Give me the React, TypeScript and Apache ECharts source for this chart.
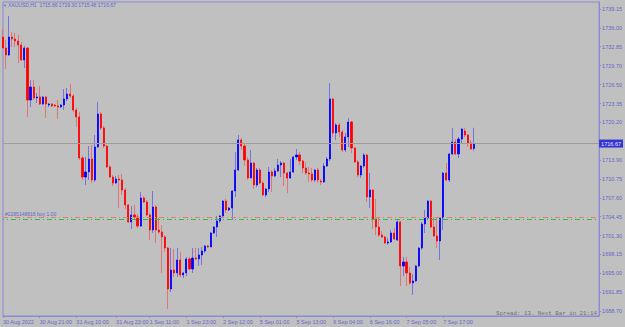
import React, { useEffect, useRef } from "react";
import * as echarts from "echarts";

// trading sessions (date, first hour, last hour) -> hourly categories
const sessions: [string, number, number][] = [
  ["30 Aug", 9, 23],
  ["31 Aug", 1, 23],
  ["1 Sep", 1, 23],
  ["2 Sep", 1, 23],
  ["5 Sep", 1, 21],
  ["6 Sep", 1, 23],
  ["7 Sep", 1, 23],
  ["8 Sep", 1, 4],
];

const open = [
  1734.47, 1732.63, 1731.47, 1734.47, 1734.14, 1733.8, 1733.13, 1730.63, 1732.63, 1723.95,
  1726.12, 1724.28, 1724.45, 1723.28, 1724.45, 1723.11, 1723.28, 1723.11, 1722.95, 1722.78,
  1723.11, 1724.12, 1724.95, 1724.61, 1722.28, 1721.11, 1714.26, 1711.08, 1711.92, 1714.09,
  1710.58, 1716.1, 1721.61, 1719.27, 1716.26, 1712.76, 1711.08, 1710.08, 1710.75, 1710.58,
  1708.91, 1706.41, 1703.57, 1704.74, 1704.4, 1702.9, 1707.58, 1706.91, 1704.74, 1702.23,
  1706.07, 1702.23, 1701.89, 1701.06, 1699.22, 1692.38, 1695.55, 1695.05, 1697.22, 1694.72,
  1695.05, 1697.39, 1695.72, 1697.55, 1697.39, 1698.06, 1698.72, 1699.56, 1699.39, 1701.73,
  1702.73, 1703.73, 1704.57, 1707.07, 1705.57, 1705.9, 1708.75, 1712.26, 1717.27, 1716.26,
  1713.93, 1710.92, 1713.42, 1709.75, 1712.26, 1710.08, 1708.08, 1709.08, 1711.92, 1711.25,
  1712.09, 1713.09, 1713.42, 1711.75, 1710.92, 1711.92, 1714.43, 1714.76, 1713.76, 1712.59,
  1711.75, 1711.59, 1710.58, 1712.26, 1710.42, 1710.25, 1712.92, 1714.09, 1724.12, 1718.44,
  1719.77, 1718.6, 1715.6, 1717.77, 1720.27, 1715.93, 1713.59, 1711.42, 1712.92, 1714.76,
  1707.74, 1708.91, 1704.07, 1702.73, 1701.39, 1701.06, 1700.06, 1700.23, 1701.73, 1700.56,
  1703.57, 1696.22, 1696.89, 1695.05, 1693.38, 1693.71, 1696.22, 1699.22, 1703.23, 1704.24,
  1707.07, 1702.73, 1701.23, 1700.39, 1704.24, 1711.75, 1710.58, 1714.93, 1716.93, 1714.93,
  1717.43, 1718.77, 1718.1, 1716.77, 1715.86,
];

const close = [
  1732.63, 1731.47, 1734.47, 1734.14, 1733.8, 1733.13, 1730.63, 1732.63, 1723.95, 1726.12,
  1724.28, 1724.45, 1723.28, 1724.45, 1723.28, 1723.28, 1722.95, 1722.95, 1722.78, 1723.11,
  1724.12, 1724.95, 1724.61, 1722.28, 1721.11, 1714.26, 1711.08, 1711.92, 1714.09, 1710.58,
  1716.1, 1721.61, 1719.27, 1716.26, 1712.76, 1711.08, 1710.08, 1710.75, 1710.58, 1708.91,
  1706.41, 1703.57, 1704.74, 1704.4, 1702.9, 1707.58, 1706.91, 1704.74, 1702.23, 1706.07,
  1702.23, 1701.89, 1701.06, 1699.22, 1692.38, 1695.55, 1695.05, 1697.22, 1694.72, 1695.05,
  1697.39, 1695.72, 1697.55, 1697.39, 1698.06, 1698.72, 1699.56, 1699.39, 1701.73, 1702.73,
  1703.73, 1704.57, 1707.07, 1705.57, 1705.9, 1708.75, 1712.26, 1717.27, 1716.26, 1713.93,
  1710.92, 1713.42, 1709.75, 1712.26, 1710.08, 1708.08, 1709.08, 1711.92, 1711.25, 1712.09,
  1713.09, 1713.42, 1711.75, 1710.92, 1711.92, 1714.43, 1714.76, 1713.76, 1712.59, 1711.75,
  1711.59, 1710.58, 1712.26, 1710.58, 1710.25, 1712.92, 1714.09, 1724.12, 1718.44, 1719.77,
  1718.6, 1715.6, 1717.77, 1720.27, 1715.93, 1713.59, 1711.42, 1712.92, 1714.76, 1707.74,
  1708.91, 1704.07, 1702.73, 1701.39, 1701.06, 1700.06, 1700.23, 1701.73, 1700.73, 1703.57,
  1696.22, 1696.89, 1695.05, 1693.38, 1693.71, 1696.22, 1699.22, 1703.23, 1704.24, 1707.07,
  1702.73, 1701.23, 1700.39, 1704.24, 1711.75, 1710.58, 1714.93, 1716.93, 1714.93, 1717.43,
  1719.1, 1718.1, 1716.77, 1715.76, 1716.67,
];

const high = [
  1735.81, 1733.97, 1737.98, 1735.31, 1735.14, 1734.8, 1733.63, 1732.97, 1732.8, 1727.29,
  1727.29, 1725.12, 1726.29, 1724.61, 1724.61, 1723.45, 1723.45, 1723.28, 1723.95, 1723.28,
  1725.78, 1725.95, 1726.62, 1724.95, 1722.61, 1721.94, 1714.59, 1714.43, 1716.26, 1716.43,
  1718.1, 1723.61, 1721.94, 1719.6, 1716.43, 1713.09, 1711.42, 1711.25, 1711.42, 1711.59,
  1709.25, 1706.57, 1706.24, 1706.41, 1704.9, 1708.58, 1707.91, 1707.24, 1705.07, 1708.75,
  1706.41, 1704.24, 1703.07, 1701.39, 1699.39, 1699.22, 1699.06, 1699.22, 1698.56, 1695.22,
  1697.72, 1697.72, 1699.22, 1699.22, 1699.22, 1699.39, 1699.73, 1699.73, 1701.89, 1702.9,
  1704.57, 1704.74, 1707.24, 1707.41, 1706.07, 1708.91, 1715.26, 1718.1, 1717.6, 1716.6,
  1714.43, 1715.6, 1713.59, 1712.59, 1712.59, 1710.42, 1709.25, 1712.76, 1712.26, 1712.59,
  1714.09, 1713.76, 1713.59, 1711.92, 1714.09, 1714.59, 1715.76, 1715.26, 1713.93, 1713.59,
  1712.76, 1712.59, 1712.42, 1712.59, 1710.75, 1713.42, 1714.43, 1726.79, 1724.28, 1720.11,
  1720.11, 1718.94, 1718.44, 1720.94, 1720.44, 1716.1, 1713.93, 1713.09, 1715.09, 1714.93,
  1711.75, 1709.08, 1707.41, 1704.4, 1702.06, 1701.23, 1700.89, 1702.23, 1702.56, 1703.9,
  1703.73, 1697.72, 1697.72, 1696.05, 1694.88, 1696.39, 1699.39, 1703.57, 1705.57, 1707.24,
  1707.24, 1704.4, 1704.4, 1704.4, 1711.92, 1713.42, 1715.09, 1719.27, 1717.43, 1717.77,
  1719.27, 1719.27, 1718.27, 1717.27, 1719.3,
];

const low = [
  1732.63, 1729.13, 1731.3, 1732.8, 1732.8, 1730.13, 1730.46, 1729.29, 1721.11, 1722.78,
  1723.95, 1723.45, 1723.11, 1723.11, 1720.94, 1722.78, 1722.78, 1722.78, 1720.78, 1722.61,
  1722.28, 1723.78, 1724.28, 1721.94, 1719.44, 1713.93, 1710.58, 1709.75, 1710.58, 1710.08,
  1710.25, 1715.93, 1718.94, 1715.93, 1712.59, 1710.92, 1709.58, 1709.91, 1705.9, 1708.08,
  1705.74, 1703.4, 1702.4, 1703.9, 1702.56, 1702.73, 1706.74, 1704.57, 1700.56, 1701.73,
  1700.06, 1701.56, 1695.05, 1698.56, 1689.03, 1691.87, 1694.38, 1694.38, 1694.38, 1694.21,
  1694.55, 1695.55, 1695.05, 1697.22, 1696.22, 1696.39, 1698.39, 1699.22, 1699.39, 1701.56,
  1701.06, 1703.4, 1704.4, 1705.07, 1705.4, 1703.9, 1707.74, 1712.09, 1715.6, 1712.92,
  1710.58, 1710.92, 1709.08, 1709.41, 1709.91, 1707.91, 1707.74, 1708.58, 1708.58, 1711.08,
  1711.92, 1711.08, 1709.58, 1708.41, 1710.75, 1711.75, 1713.93, 1713.09, 1711.75, 1711.42,
  1710.25, 1710.25, 1710.25, 1710.08, 1709.75, 1710.08, 1712.76, 1713.76, 1717.77, 1717.27,
  1717.77, 1715.26, 1715.26, 1716.1, 1715.09, 1713.42, 1711.08, 1710.92, 1712.59, 1706.91,
  1705.9, 1702.4, 1701.39, 1701.06, 1700.89, 1699.89, 1699.73, 1700.06, 1700.56, 1700.39,
  1692.88, 1694.55, 1692.88, 1693.04, 1691.37, 1693.54, 1696.05, 1698.89, 1701.73, 1703.9,
  1702.56, 1701.06, 1699.22, 1697.22, 1702.23, 1710.42, 1710.25, 1714.76, 1714.76, 1714.26,
  1716.77, 1717.77, 1716.1, 1715.6, 1715.48,
];

const priceTicks = [
  1739.15, 1736.0, 1732.85, 1729.7, 1726.5, 1723.35, 1720.2, 1713.9, 1710.75,
  1707.6, 1704.45, 1701.3, 1698.15, 1695.0, 1691.85, 1688.7,
];

const timeLabels = [
  "30 Aug 21:00", "31 Aug 10:00", "31 Aug 23:00", "1 Sep 11:00", "1 Sep 23:00",
  "2 Sep 12:00", "5 Sep 01:00", "5 Sep 13:00", "6 Sep 04:00", "6 Sep 16:00",
  "7 Sep 05:00", "7 Sep 17:00",
];
const firstLabel = "30 Aug 2022";

const lastPrice = 1716.67;
const orderLinePrice = 1703.98;
const orderLinePrice2 = 1704.4;
const orderText = "#2285148816 buy 1.00";
const titleText = "XAUUSD,H1  1715.86 1719.30 1715.48 1716.67";
const spreadText = "Spread: 13. Next Bar in 21:14";
const yMin = 1687.86;
const yMax = 1740.32;
const totalSlots = 196;

const BG = "#c0c0c0";
const AXIS = "#8a8ad6";
const TEXT = "#6666cc";
const BULL = "#0000ff";
const BEAR = "#ff0000";
const BULL_WICK = "#7474e2";
const BEAR_WICK = "#e27474";
const FONT = "'Liberation Sans', Arial, sans-serif";

export default function App() {
  const ref = useRef<HTMLDivElement>(null);

  useEffect(() => {
    if (!ref.current) return;
    const chart = echarts.init(ref.current, null, { renderer: "svg" });

    const categories: string[] = [];
    sessions.forEach(([d, h0, h1]) => {
      for (let h = h0; h <= h1; h++) {
        categories.push(`${d} ${String(h).padStart(2, "0")}:00`);
      }
    });
    for (let k = categories.length; k < totalSlots; k++) categories.push(`pad${k}`);

    const showLabel = (idx: number, val: string) => idx === 0 || timeLabels.includes(val);

    const wickData = open.map((o, i) => [o, close[i], low[i], high[i]]);
    const bodyData = open.map((o, i) => [
      o,
      close[i],
      Math.min(o, close[i]),
      Math.max(o, close[i]),
    ]);

    const flatLine = (price: number, color: string, dash: any, offset: number, label: any) => ({
      type: "line",
      data: [],
      silent: true,
      markLine: {
        silent: true,
        symbol: ["none", "none"],
        lineStyle: { color, type: dash, width: 1, dashOffset: offset, opacity: 1 },
        label,
        data: [{ yAxis: price }],
      },
    });

    chart.setOption({
      animation: false,
      backgroundColor: BG,
      grid: {
        left: 2,
        top: 2,
        right: 25,
        bottom: 11,
        show: true,
        borderColor: AXIS,
        borderWidth: 1,
        backgroundColor: "transparent",
      },
      xAxis: {
        type: "category",
        data: categories,
        boundaryGap: false,
        axisLine: { show: true, lineStyle: { color: AXIS, width: 1 } },
        axisTick: {
          show: true,
          alignWithLabel: true,
          length: 2,
          interval: (idx: number, val: string) => showLabel(idx, val),
          lineStyle: { color: AXIS },
        },
        axisLabel: {
          interval: (idx: number, val: string) => showLabel(idx, val),
          formatter: (val: string, idx: number) => (idx === 0 ? firstLabel : val),
          align: "left",
          fontSize: 5.5,
          color: TEXT,
          fontFamily: FONT,
          margin: 3,
        },
        splitLine: { show: false },
      },
      yAxis: {
        type: "value",
        position: "right",
        min: yMin,
        max: yMax,
        scale: true,
        axisLine: { show: true, lineStyle: { color: AXIS, width: 1 } },
        axisTick: {
          show: true,
          customValues: priceTicks,
          length: 2,
          lineStyle: { color: AXIS },
        },
        axisLabel: {
          customValues: priceTicks,
          formatter: (v: number) => v.toFixed(2),
          fontSize: 5.5,
          color: TEXT,
          fontFamily: FONT,
          margin: 3,
        },
        splitLine: { show: false },
      },
      series: [
        flatLine(lastPrice, "#9c9c9c", "solid", 0, {
          show: true,
          position: "end",
          formatter: lastPrice.toFixed(2),
          backgroundColor: "#3434d4",
          color: "#e6e6ff",
          fontSize: 5.5,
          fontFamily: FONT,
          padding: [1, 2, 1, 2],
          distance: 0,
        }),
        flatLine(orderLinePrice2, "#e08080", [5, 3, 1, 3], 0, { show: false }),
        flatLine(orderLinePrice, "#2fbf2f", [5, 3, 1, 3], 4, {
          show: true,
          position: "insideStartTop",
          formatter: orderText,
          color: TEXT,
          fontSize: 5,
          fontFamily: FONT,
          distance: [2, 3],
        }),
        {
          type: "candlestick",
          name: "wicks",
          data: wickData,
          barWidth: 1,
          silent: true,
          itemStyle: {
            color: BULL_WICK,
            color0: BEAR_WICK,
            borderColor: BULL_WICK,
            borderColor0: BEAR_WICK,
            borderWidth: 1,
          },
        },
        {
          type: "candlestick",
          name: "bodies",
          data: bodyData,
          barWidth: 1.6,
          silent: true,
          itemStyle: {
            color: BULL,
            color0: BEAR,
            borderColor: BULL,
            borderColor0: BEAR,
            borderWidth: 0.8,
          },
        },
      ],
      graphic: [
        {
          type: "text",
          x: 3,
          y: 5,
          style: {
            text: "▼",
            fontSize: 4,
            fill: TEXT,
            verticalAlign: "middle",
            fontFamily: FONT,
          },
        },
        {
          type: "text",
          x: 8,
          y: 5,
          style: {
            text: titleText,
            fontSize: 5,
            fill: TEXT,
            verticalAlign: "middle",
            fontFamily: FONT,
          },
        },
        {
          type: "text",
          x: 597,
          y: 313,
          style: {
            text: spreadText,
            fontSize: 5.8,
            fill: "#707070",
            align: "right",
            verticalAlign: "middle",
            fontFamily: "'Liberation Mono', 'DejaVu Sans Mono', monospace",
          },
        },
      ],
    });

    return () => chart.dispose();
  }, []);

  return (
    <div
      style={{
        position: "fixed",
        left: 0,
        top: 0,
        width: 625,
        height: 327,
        background: BG,
      }}
    >
      <div ref={ref} style={{ width: 625, height: 327 }} />
    </div>
  );
}
